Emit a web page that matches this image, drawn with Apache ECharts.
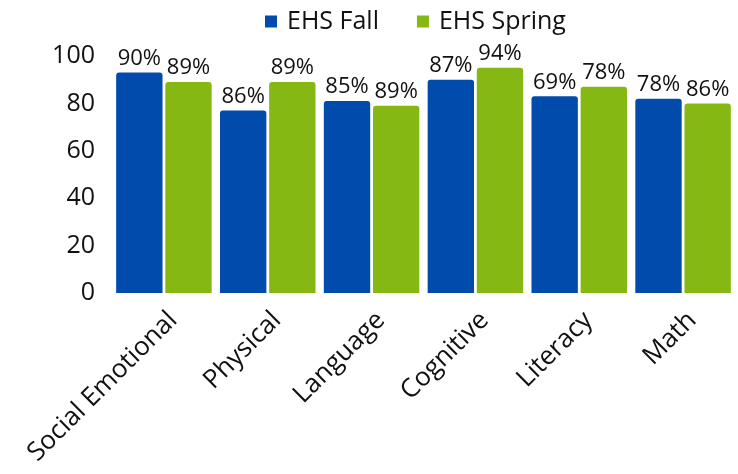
<!DOCTYPE html>
<html>
<head>
<meta charset="utf-8">
<script src="https://cdn.jsdelivr.net/npm/echarts@6/dist/echarts.min.js"></script>
<style>
  html, body { margin: 0; padding: 0; background: #fff; }
  #chart { width: 738px; height: 474px; }
</style>
</head>
<body>
<div id="chart"></div>
<script>
// categories and values
var categories = ['Social Emotional', 'Physical', 'Language', 'Cognitive', 'Literacy', 'Math'];
// bar heights (as drawn)
var fallValues = [93, 77, 81, 90, 83, 82];
var springValues = [89, 89, 79, 95, 87, 80];
// labels printed above the bars
var fallLabels = ['90%', '86%', '85%', '87%', '69%', '78%'];
var springLabels = ['89%', '89%', '89%', '94%', '78%', '86%'];
var yTicks = [0, 20, 40, 60, 80, 100];

var chart = echarts.init(document.getElementById('chart'));

var font = '"Open Sans", "Noto Sans", sans-serif';

function labelFrom(arr) {
    return {
        show: true,
        position: 'top',
        distance: 3,
        fontFamily: font,
        fontSize: 22,
        color: '#111',
        formatter: function (p) { return arr[p.dataIndex]; }
    };
}

chart.setOption({
    animation: false,
    legend: {
        top: 4,
        left: 260,
        itemWidth: 12,
        itemHeight: 12,
        itemGap: 38,
        icon: 'rect',
        textStyle: { fontFamily: font, fontSize: 25, color: '#111', padding: [0, 0, 0, 5] },
        data: ['EHS Fall', 'EHS Spring']
    },
    grid: { left: 112, right: 3, top: 56, bottom: 181 },
    xAxis: {
        type: 'category',
        data: categories,
        axisLine: { show: false },
        axisTick: { show: false },
        axisLabel: {
            rotate: 45,
            interval: 0,
            margin: 14,
            verticalAlign: 'top',
            fontFamily: font,
            fontSize: 26,
            color: '#111'
        }
    },
    yAxis: {
        type: 'value',
        min: yTicks[0],
        max: yTicks[yTicks.length - 1],
        interval: 20,
        splitLine: { show: false },
        axisLine: { show: false },
        axisTick: { show: false },
        axisLabel: {
            margin: 17,
            fontFamily: font,
            fontSize: 25,
            color: '#111'
        }
    },
    series: [
        {
            name: 'EHS Fall',
            type: 'bar',
            data: fallValues,
            barGap: '6%',
            barCategoryGap: '8%',
            itemStyle: { color: '#004BAB', borderRadius: [3, 3, 0, 0] },
            label: labelFrom(fallLabels)
        },
        {
            name: 'EHS Spring',
            type: 'bar',
            data: springValues,
            itemStyle: { color: '#86B814', borderRadius: [3, 3, 0, 0] },
            label: labelFrom(springLabels)
        }
    ]
});
</script>
</body>
</html>
